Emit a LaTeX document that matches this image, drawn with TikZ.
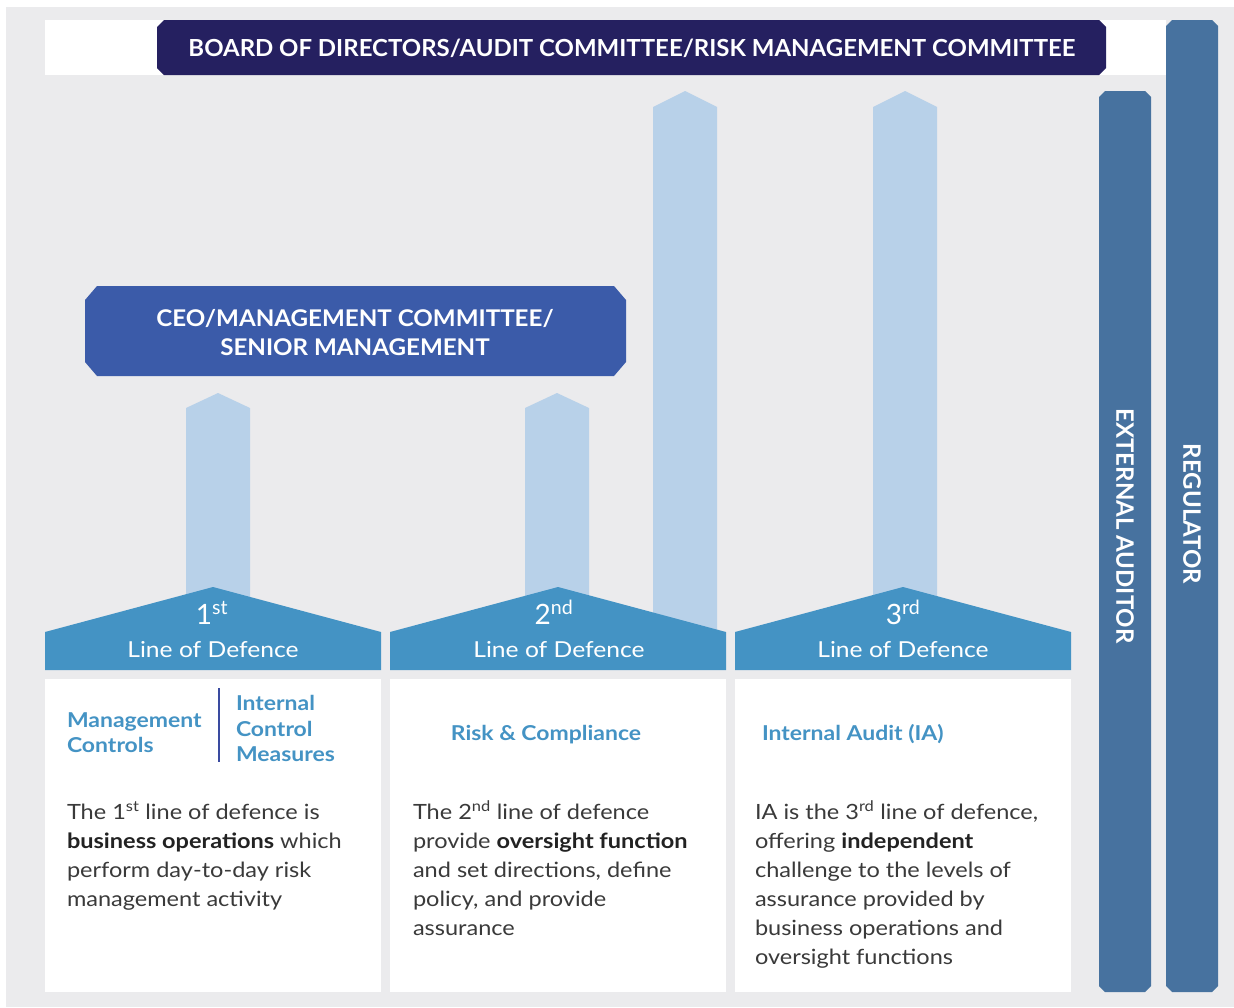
\documentclass[tikz,border=0pt]{standalone}
\usepackage{fontspec}
\setmainfont{Lato}
\newfontfamily\widefont[FakeStretch=1.12]{Lato}
\newfontfamily\bannerfont[FakeStretch=1.02]{Lato}
\newfontfamily\ceofont[FakeStretch=1.05]{Lato}
\definecolor{bggrey}{HTML}{EBEBED}
\definecolor{navy}{HTML}{252060}
\definecolor{ceoc}{HTML}{3B5BA9}
\definecolor{lightarrow}{HTML}{B8D1E9}
\definecolor{housec}{HTML}{4493C4}
\definecolor{barc}{HTML}{47729F}
\definecolor{bodytxt}{HTML}{3A3A3A}
\definecolor{boldtxt}{HTML}{222222}
\definecolor{divc}{HTML}{3A4BA0}
\begin{document}
\begin{tikzpicture}[x=1pt,y=-1pt,
  every node/.style={inner sep=0pt,outer sep=0pt},
  body/.style={anchor=base west,font=\widefont\fontsize{21}{29}\selectfont,text=bodytxt},
  head/.style={anchor=base west,font=\widefont\fontsize{20.5}{25}\selectfont\bfseries,text=housec},
  housetxt/.style={anchor=base,font=\widefont\fontsize{22}{22}\selectfont,text=white},
  ordtxt/.style={anchor=base,font=\fontsize{28}{28}\selectfont,text=white},
  bartxt/.style={rotate=-90,font=\fontsize{24}{24}\selectfont\bfseries,text=white},
  arrowup/.style={fill=lightarrow},
  housefill/.style={fill=housec},
  panel/.style={fill=white}]
\useasboundingbox (0,0) rectangle (1234,1007);
\fill[bggrey] (6,7) rectangle (1234,1007);
% top white band and board banner
\fill[white] (45,20) rectangle (1166,75);
\fill[navy] (164,20) -- (1099,20) -- (1106,27) -- (1106,68) -- (1099,75) -- (164,75) -- (157,68) -- (157,27) -- cycle;
\node[font=\bannerfont\fontsize{23.5}{24}\selectfont\bfseries,text=white] (board) at (632,48) {BOARD OF DIRECTORS/AUDIT COMMITTEE/RISK MANAGEMENT COMMITTEE};
% right bars
\fill[barc] (1172,20) -- (1212,20) -- (1218,26) -- (1218,986) -- (1212,992) -- (1172,992) -- (1166,986) -- (1166,26) -- cycle;
\fill[barc] (1105,91) -- (1145,91) -- (1151,97) -- (1151,986) -- (1145,992) -- (1105,992) -- (1099,986) -- (1099,97) -- cycle;
\node[bartxt] (ext) at (1125,526) {EXTERNAL AUDITOR};
\node[bartxt] (reg) at (1192,514) {REGULATOR};
% light arrows
\fill[arrowup] (186,610) -- (186,408) -- (218,393) -- (250,408) -- (250,610) -- cycle;
\fill[arrowup] (525,610) -- (525,408) -- (557,393) -- (589,408) -- (589,610) -- cycle;
\fill[arrowup] (653,640) -- (653,107) -- (685,91) -- (717,107) -- (717,640) -- cycle;
\fill[arrowup] (873,610) -- (873,107) -- (905,91) -- (937,107) -- (937,610) -- cycle;
% CEO box
\fill[ceoc] (97,286) -- (614,286) -- (626,300) -- (626,362) -- (614,376) -- (97,376) -- (85,362) -- (85,300) -- cycle;
\node[font=\ceofont\fontsize{23}{29}\selectfont\bfseries,text=white,align=center] (ceo) at (355,333) {CEO/MANAGEMENT COMMITTEE/\\SENIOR MANAGEMENT};
% houses
\fill[housefill] (45,670) -- (45,632) -- (213,587) -- (381,632) -- (381,670) -- cycle;
\fill[housefill] (390,670) -- (390,632) -- (558,587) -- (726,632) -- (726,670) -- cycle;
\fill[housefill] (735,670) -- (735,632) -- (903,587) -- (1071,632) -- (1071,670) -- cycle;
\node[ordtxt] (o1) at (212,624) {1\textsuperscript{st}};
\node[ordtxt] (o2) at (554,624) {2\textsuperscript{nd}};
\node[ordtxt] (o3) at (903,624) {3\textsuperscript{rd}};
\node[housetxt] (l1) at (213,657) {Line of Defence};
\node[housetxt] (l2) at (559,657) {Line of Defence};
\node[housetxt] (l3) at (903,657) {Line of Defence};
% panels
\fill[panel] (45,679) rectangle (381,992);
\fill[panel] (390,679) rectangle (726,992);
\fill[panel] (735,679) rectangle (1071,992);
% panel 1
\node[head] (mc1) at (67,727) {Management};
\node[head] (mc2) at (67,752) {Controls};
\draw[divc,line width=1.4pt] (219,688) -- (219,762);
\node[head] (ic1) at (236,710) {Internal};
\node[head] (ic2) at (236,736) {Control};
\node[head] (ic3) at (236,761) {Measures};
\node[body] (b11) at (67,819) {The 1\textsuperscript{st} line of defence is};
\node[body] (b12) at (67,848) {\textcolor{boldtxt}{\bfseries business operations} which};
\node[body] (b13) at (67,877) {perform day-to-day risk};
\node[body] (b14) at (67,906) {management activity};
% panel 2
\node[head,anchor=base] (rc) at (546,740) {Risk \& Compliance};
\node[body] (b21) at (413,819) {The 2\textsuperscript{nd} line of defence};
\node[body] (b22) at (413,848) {provide \textcolor{boldtxt}{\bfseries oversight function}};
\node[body] (b23) at (413,877) {and set directions, define};
\node[body] (b24) at (413,906) {policy, and provide};
\node[body] (b25) at (413,935) {assurance};
% panel 3
\node[head] (ia) at (762,740) {Internal Audit (IA)};
\node[body] (b31) at (755,819) {IA is the 3\textsuperscript{rd} line of defence,};
\node[body] (b32) at (755,848) {offering \textcolor{boldtxt}{\bfseries independent}};
\node[body] (b33) at (755,877) {challenge to the levels of};
\node[body] (b34) at (755,906) {assurance provided by};
\node[body] (b35) at (755,935) {business operations and};
\node[body] (b36) at (755,964) {oversight functions};
\end{tikzpicture}
\end{document}
